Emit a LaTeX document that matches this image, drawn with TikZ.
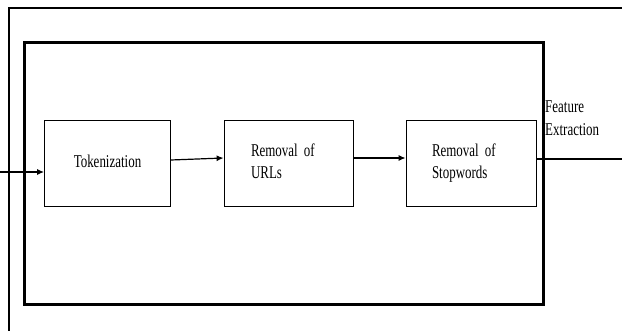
\documentclass[tikz,border=0pt]{standalone}
\usepackage{fontspec}
\setmainfont{Liberation Serif}[FakeStretch=0.72]
\usetikzlibrary{positioning,calc,arrows,arrows.meta}

\tikzset{stage/.style={draw, line width=0.8pt, minimum width=126pt, minimum height=86pt, inner ysep=0pt, font=\fontsize{18}{22}\selectfont},
	link/.style={line width=1.2pt, -{Latex[length=7pt,width=6pt]}}}
\newcommand{\twolines}[2]{\raisebox{4pt}{\begin{tabular}{@{}l@{}}#1\\#2\end{tabular}}}

\begin{document}
\begin{tikzpicture}[x=1pt,y=-1pt]
	\useasboundingbox (0,0) rectangle (622,331);
	\draw[line width=2pt] (9,331) -- (9,8) -- (622,8);
	\draw[line width=3pt] (24,43) rectangle (543,305);
	\node[stage] (Tok) at (107.5,163) {\raisebox{3pt}{Tokenization}};
	\node[stage, minimum width=129pt, inner xsep=27pt, text width=75pt, align=left] (URL) at (288.5,163) {\twolines{Removal of}{URLs}};
	\node[stage, minimum width=130pt, inner xsep=26pt, text width=78pt, align=left] (Stop) at (471,163) {\twolines{Removal of}{Stopwords}};
	\node[anchor=north west, align=left, inner sep=0pt, font=\fontsize{18}{23}\selectfont] (Feat) at (545,101) {Feature\\Extraction};
	\coordinate (in) at (0,172);
	\coordinate (out) at (622,159);
	\draw[link] (in) -- (in -| Tok.west);
	\draw[link] ([yshift=3pt]Tok.east) -- ([yshift=5pt]URL.west);
	\draw[link] ([yshift=5pt]URL.east) -- ([yshift=5pt]Stop.west);
	\draw[link, -] (out -| Stop.east) -- (out);
\end{tikzpicture}
\end{document}
